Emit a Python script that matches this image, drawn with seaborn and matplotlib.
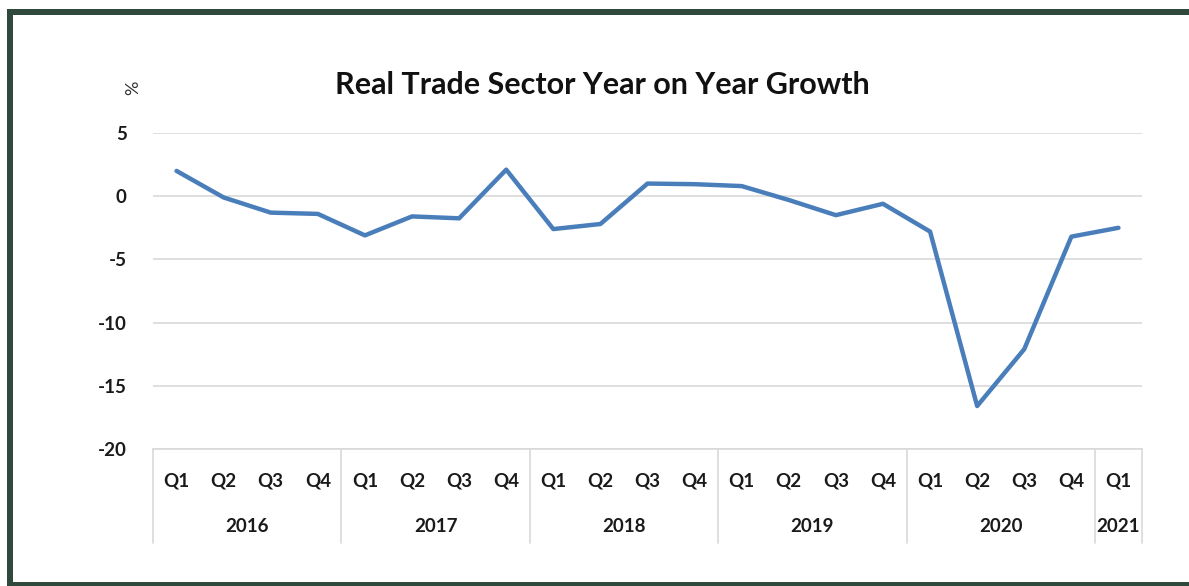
import numpy as np
import pandas as pd
import matplotlib
matplotlib.use("Agg")
import matplotlib.pyplot as plt
import matplotlib.transforms as mtransforms
from matplotlib.patches import Rectangle
import seaborn as sns

# data
years = ["2016"] * 4 + ["2017"] * 4 + ["2018"] * 4 + ["2019"] * 4 + ["2020"] * 4 + ["2021"]
quarters = ["Q1", "Q2", "Q3", "Q4"] * 5 + ["Q1"]
growth = [2.0, -0.1, -1.3, -1.4,
          -3.1, -1.6, -1.75, 2.1,
          -2.6, -2.2, 1.0, 0.95,
          0.8, -0.3, -1.5, -0.6,
          -2.8, -16.6, -12.1, -3.2,
          -2.5]
y_ticks = [5, 0, -5, -10, -15, -20]

df = pd.DataFrame({"year": years, "quarter": quarters, "growth": growth})
df["pos"] = np.arange(len(df))

sns.set_style("white")
plt.rcParams["font.family"] = ["Lato", "DejaVu Sans"]

fig = plt.figure(figsize=(11.89, 5.86), dpi=100)
ax = fig.add_axes([153 / 1189, 1 - 449 / 586, (1142 - 153) / 1189, (449 - 133) / 586])

sns.lineplot(data=df, x="pos", y="growth", ax=ax, color="#4a7ebb", lw=3.2)

grid_col = "#d9d9d9"
txt_col = "#1a1a1a"
ax.set_xlim(-0.5, len(df) - 0.5)
ax.set_ylim(-20, 5)
ax.set_yticks(y_ticks)
ax.set_yticklabels([str(v) for v in y_ticks], fontsize=13.5, fontweight="bold", color=txt_col)
ax.yaxis.grid(True, color=grid_col, lw=1.2)
ax.set_axisbelow(True)
for s in ax.spines.values():
    s.set_visible(False)
ax.tick_params(axis="y", length=0, pad=19)
ax.set_xticks(df["pos"])
ax.set_xticklabels(df["quarter"], fontsize=13.5, fontweight="bold", color=txt_col)
ax.tick_params(axis="x", length=0, pad=17)
ax.set_xlabel("")
ax.set_ylabel("")

# category box below the plot (year groups)
trans = mtransforms.blended_transform_factory(ax.transData, ax.transAxes)
box_bottom = -(543 - 449) / (449 - 133)
ax.plot([-0.5, len(df) - 0.5], [0, 0], transform=trans, color=grid_col, lw=1.2, clip_on=False)
groups = df.groupby("year")["pos"].agg(["min", "max"])
edges = sorted(set([g - 0.5 for g in groups["min"]] + [len(df) - 0.5]))
for e in edges:
    ax.plot([e, e], [0, box_bottom], transform=trans, color=grid_col, lw=1.2, clip_on=False)
for yr, row in groups.iterrows():
    ax.text((row["min"] + row["max"]) / 2, -(526 - 449) / (449 - 133), yr, transform=trans,
            ha="center", va="center", fontsize=13.5, fontweight="bold", color=txt_col)

# title and unit label
fig.text(602 / 1189, 1 - 85 / 586, "Real Trade Sector Year on Year Growth", ha="center", va="center",
         fontsize=22, fontweight="bold", color="#111111")
fig.text(133 / 1189, 1 - 88 / 586, "%", rotation=90, ha="center", va="center", fontsize=13, color="#333333")

# dark green frame around the picture
frame = "#2f4a3c"
fig.add_artist(Rectangle((7 / 1189, 1 - 15 / 586), 1.0, 6 / 586, transform=fig.transFigure, color=frame, lw=0))
fig.add_artist(Rectangle((7 / 1189, 0), 6 / 1189, 1 - 9 / 586, transform=fig.transFigure, color=frame, lw=0))
fig.add_artist(Rectangle((7 / 1189, 0), 1.0, 4 / 586, transform=fig.transFigure, color=frame, lw=0))

fig.savefig("out.png", dpi=100)
